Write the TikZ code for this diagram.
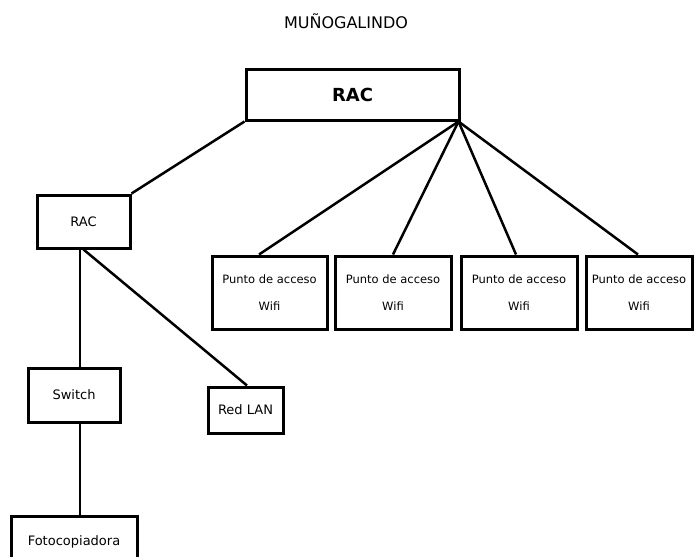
\documentclass[tikz,border=0pt]{standalone}
\usepackage{fontspec}
\setmainfont{DejaVu Sans}
\begin{document}
\begin{tikzpicture}[x=1pt,y=-1pt,
  box/.style={draw, line width=3pt, inner sep=0pt, font=\fontsize{13}{15}\selectfont},
  wifibox/.style={box, minimum height=73, align=center, font=\fontsize{11.5}{27}\selectfont},
  conn/.style={line width=2.5pt}]
\useasboundingbox[fill=white] (0,0) rectangle (694,557);
\node[anchor=base, font=\fontsize{16}{18}\selectfont] (title) at (346,28) {MUÑOGALINDO};
\node[box, minimum width=213, minimum height=51, font=\fontsize{18}{20}\selectfont\bfseries] (rac) at (352.5,94.5) {RAC};
\node[box, minimum width=93, minimum height=53] (rac2) at (83.5,221.5) {RAC};
\node[box, minimum width=92, minimum height=54] (sw) at (74,395) {Switch};
\node[box, minimum width=75, minimum height=46] (lan) at (245.5,410) {Red LAN};
\node[box, minimum width=126, minimum height=51] (foto) at (74,541.5) {Fotocopiadora};
\node[wifibox, minimum width=115] (w1) at (269.5,292.5) {Punto de acceso\\Wifi};
\node[wifibox, minimum width=116] (w2) at (393,292.5) {Punto de acceso\\Wifi};
\node[wifibox, minimum width=116] (w3) at (519,292.5) {Punto de acceso\\Wifi};
\node[wifibox, minimum width=106] (w4) at (639,292.5) {Punto de acceso\\Wifi};
\coordinate (hub) at ([xshift=-2pt]rac.south east);
\draw[conn] (rac.south west) -- (rac2.north east);
\draw[conn] (hub) -- ([xshift=-10.5pt]w1.north);
\draw[conn] (hub) -- (w2.north);
\draw[conn] (hub) -- ([xshift=-3pt]w3.north);
\draw[conn] (hub) -- ([xshift=-1pt]w4.north);
\draw[conn] ([xshift=-3.5pt]rac2.south) -- ([xshift=6pt]sw.north);
\draw[conn] (rac2.south) -- ([xshift=1.5pt]lan.north);
\draw[conn] ([xshift=6pt]sw.south) -- ([xshift=6pt]foto.north);
\end{tikzpicture}
\end{document}
